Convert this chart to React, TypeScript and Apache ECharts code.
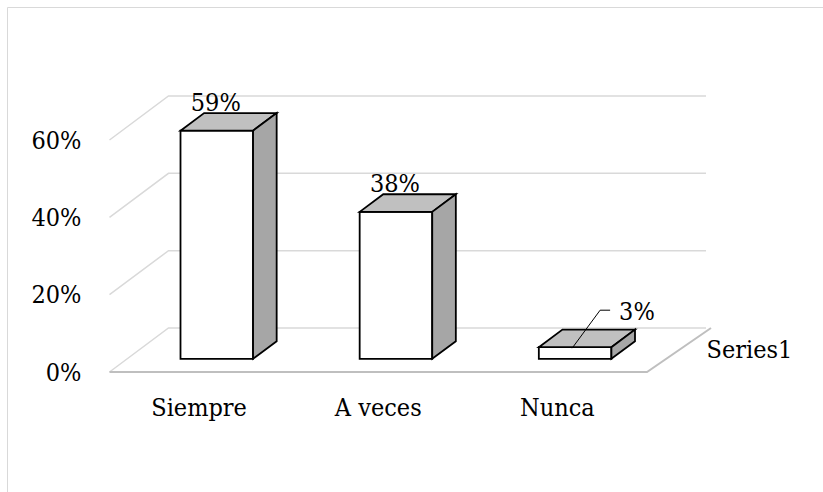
import React, { useEffect, useRef } from "react";
import * as echarts from "echarts";

const CATEGORIES = ["Siempre", "A veces", "Nunca"];
const VALUES = [59, 38, 3];
const Y_TICKS = [0, 20, 40, 60];
const SERIES_NAME = "Series1";

const DX = 59;
const DY = -44;
const FAMILY = "DejaVu Serif Condensed, DejaVu Serif";
const FS = 25;

export default function App() {
  const ref = useRef<HTMLDivElement>(null);
  useEffect(() => {
    if (!ref.current) return;
    const chart = echarts.init(ref.current, null, { renderer: "svg" });
    const n = CATEGORIES.length;
    const ts = { fontSize: FS, fontFamily: FAMILY, fill: "#000" };
    const option: any = {
      animation: false,
      backgroundColor: "#ffffff",
      graphic: [
        {
          type: "rect",
          z: -10,
          shape: { x: 7.5, y: 7.5, width: 900, height: 600 },
          style: { fill: "none", stroke: "#d9d9d9", lineWidth: 1 },
        },
      ],
      grid: {
        left: 109.5,
        right: 176,
        top: 140,
        bottom: 120,
        outerBoundsMode: "none",
        containLabel: false,
      },
      xAxis: {
        type: "category",
        data: CATEGORIES,
        axisLine: { show: false },
        axisTick: { show: false },
        splitLine: { show: false },
        axisLabel: {
          color: "#000",
          fontSize: FS,
          fontFamily: FAMILY,
          margin: 23,
        },
      },
      yAxis: {
        type: "value",
        min: 0,
        max: 60,
        interval: 20,
        axisLine: { show: false },
        axisTick: { show: false },
        splitLine: { show: false },
        axisLabel: {
          formatter: "{value}%",
          color: "#000",
          fontSize: FS,
          fontFamily: FAMILY,
          margin: 28,
        },
      },
      series: [
        {
          type: "custom",
          name: "walls",
          clip: false,
          silent: true,
          data: Y_TICKS.map((v) => [0, v]),
          renderItem: (params: any, api: any) => {
            const v = api.value(1);
            const band = api.size([1, 0])[0];
            const p = api.coord([0, v]);
            const q = api.coord([n - 1, v]);
            const xl = p[0] - band / 2;
            const xr = q[0] + band / 2;
            const y = p[1];
            const children: any[] = [
              {
                type: "polyline",
                shape: {
                  points: [
                    [xl, y],
                    [xl + DX, y + DY],
                    [xr + DX, y + DY],
                  ],
                },
                style: { stroke: "#d9d9d9", lineWidth: 1.5, fill: "none" },
              },
            ];
            if (v === 0) {
              children.push({
                type: "polyline",
                shape: {
                  points: [
                    [xl, y],
                    [xr, y],
                    [xr + DX + 5, y + DY],
                  ],
                },
                style: { stroke: "#bfbfbf", lineWidth: 2, fill: "none" },
              });
              children.push({
                type: "text",
                style: {
                  text: SERIES_NAME,
                  x: xr + DX / 2 + 30,
                  y: y + DY / 2 - 1,
                  ...ts,
                  align: "left",
                  verticalAlign: "middle",
                },
              });
            }
            return { type: "group", children };
          },
        },
        {
          type: "custom",
          name: SERIES_NAME,
          clip: false,
          data: VALUES.map((v, i) => [i, v]),
          renderItem: (params: any, api: any) => {
            const i = api.value(0);
            const v = api.value(1);
            const band = api.size([1, 0])[0];
            const base = api.coord([i, 0]);
            const top = api.coord([i, v]);
            const w = band * 0.405;
            const fx = base[0] + 0.3 * DX;
            const x0 = fx - w / 2;
            const x1 = fx + w / 2;
            const yb = base[1] + 0.3 * DY;
            const yt = top[1] + 0.3 * DY;
            const bdx = 0.4 * DX;
            const bdy = 0.4 * DY;
            const edge = { stroke: "#000", lineWidth: 1.8, lineJoin: "miter" };
            const children: any[] = [
              {
                type: "polygon",
                shape: { points: [[x0, yt], [x1, yt], [x1, yb], [x0, yb]] },
                style: { fill: "#ffffff", ...edge },
              },
              {
                type: "polygon",
                shape: {
                  points: [[x0, yt], [x0 + bdx, yt + bdy], [x1 + bdx, yt + bdy], [x1, yt]],
                },
                style: { fill: "#c0c0c0", ...edge },
              },
              {
                type: "polygon",
                shape: {
                  points: [[x1, yt], [x1 + bdx, yt + bdy], [x1 + bdx, yb + bdy], [x1, yb]],
                },
                style: { fill: "#a6a6a6", ...edge },
              },
            ];
            const label = v + "%";
            if (v < 10) {
              children.push({
                type: "polyline",
                shape: {
                  points: [
                    [fx - 3, yt + 1],
                    [fx + 25, yt - 37],
                    [fx + 35, yt - 37],
                  ],
                },
                style: { stroke: "#000", lineWidth: 1, fill: "none" },
              });
              children.push({
                type: "text",
                style: {
                  text: label,
                  x: fx + 44,
                  y: yt - 36,
                  ...ts,
                  align: "left",
                  verticalAlign: "middle",
                },
              });
            } else {
              children.push({
                type: "text",
                style: {
                  text: label,
                  x: fx - 1,
                  y: yt + bdy - 11,
                  ...ts,
                  align: "center",
                  verticalAlign: "middle",
                },
              });
            }
            return { type: "group", children };
          },
        },
      ],
    };
    chart.setOption(option);
    return () => chart.dispose();
  }, []);
  return (
    <div
      ref={ref}
      style={{ position: "fixed", left: 0, top: 0, width: 823, height: 492 }}
    />
  );
}
